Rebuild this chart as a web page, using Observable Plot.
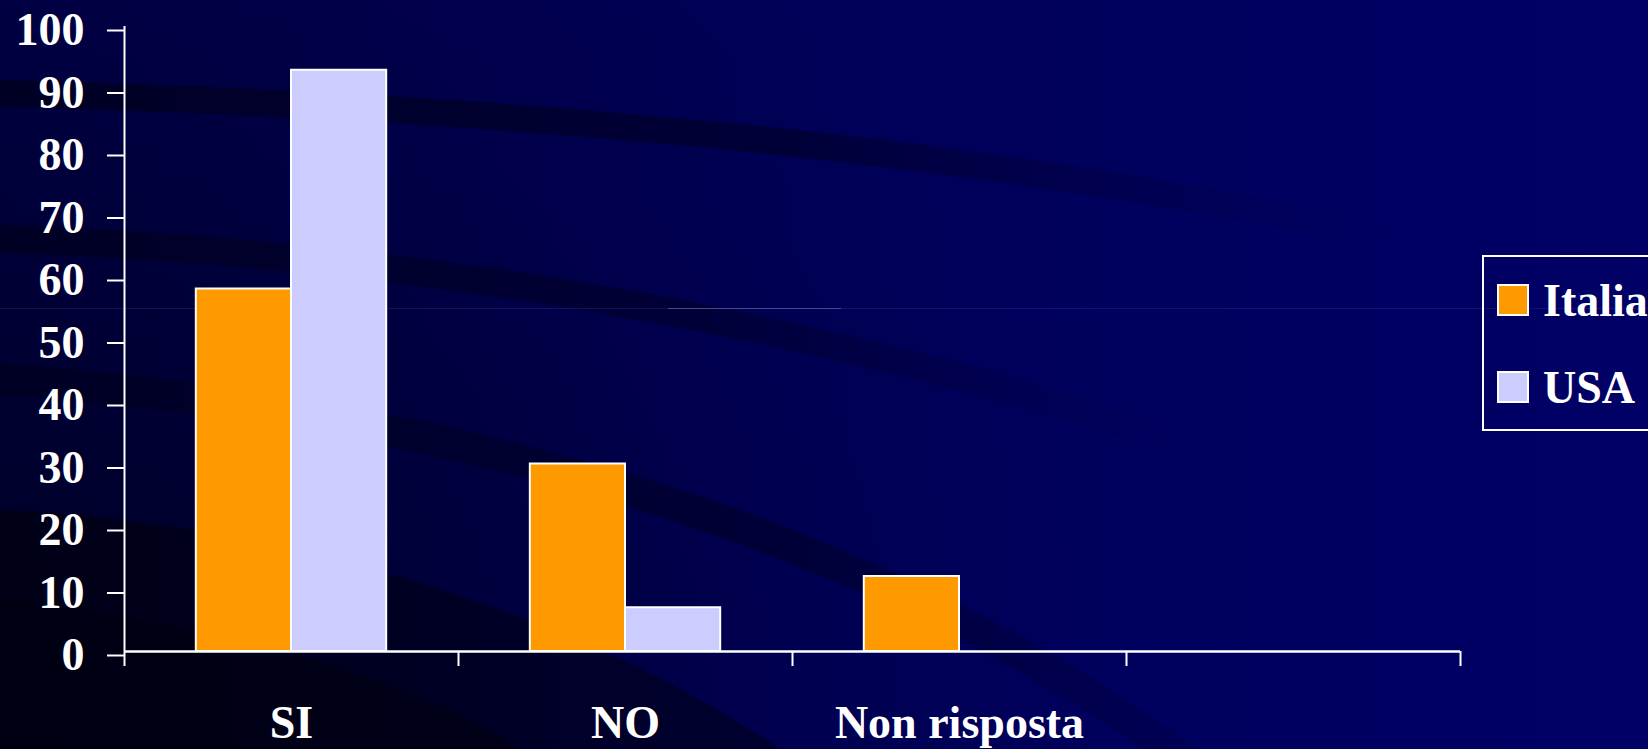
<!DOCTYPE html>
<html><head><meta charset="utf-8">
<script src="https://cdn.jsdelivr.net/npm/d3@7"></script>
<script src="https://cdn.jsdelivr.net/npm/@observablehq/plot@0.6"></script>
<style>
html,body{margin:0;padding:0;width:1648px;height:749px;overflow:hidden;background:#000058;}
#stage{position:relative;width:1648px;height:749px;}
#bg,#chart,#legend{position:absolute;left:0;top:0;}
#chart svg{display:block;}
</style></head><body>
<div id="stage">
<svg id="bg" width="1648" height="749" aria-hidden="true">
  <defs>
    <linearGradient id="base" x1="0" y1="0" x2="1" y2="0">
      <stop offset="0" stop-color="#00004a"/>
      <stop offset="0.55" stop-color="#00005a"/>
      <stop offset="1" stop-color="#000066"/>
    </linearGradient>
    <radialGradient id="shade" gradientUnits="userSpaceOnUse" cx="0" cy="749" r="1100">
      <stop offset="0" stop-color="#000000" stop-opacity="0.55"/>
      <stop offset="0.7" stop-color="#000000" stop-opacity="0.1"/>
      <stop offset="1" stop-color="#000000" stop-opacity="0"/>
    </radialGradient>
    <linearGradient id="band" gradientUnits="userSpaceOnUse" x1="0" y1="0" x2="1420" y2="0">
      <stop offset="0" stop-color="#000024" stop-opacity="1"/>
      <stop offset="0.55" stop-color="#000034" stop-opacity="0.9"/>
      <stop offset="0.85" stop-color="#000048" stop-opacity="0.4"/>
      <stop offset="1" stop-color="#000060" stop-opacity="0"/>
    </linearGradient>
    <linearGradient id="band2" gradientUnits="userSpaceOnUse" x1="0" y1="0" x2="1250" y2="0">
      <stop offset="0" stop-color="#000024" stop-opacity="1"/>
      <stop offset="0.55" stop-color="#000034" stop-opacity="0.9"/>
      <stop offset="0.85" stop-color="#000048" stop-opacity="0.35"/>
      <stop offset="1" stop-color="#000060" stop-opacity="0"/>
    </linearGradient>
    <linearGradient id="corner" gradientUnits="userSpaceOnUse" x1="0" y1="0" x2="800" y2="0">
      <stop offset="0" stop-color="#000016"/>
      <stop offset="1" stop-color="#000030"/>
    </linearGradient>
  </defs>
  <rect width="1648" height="749" fill="url(#base)"/>
  <rect width="1648" height="749" fill="url(#shade)"/>
  <path d="M -20 93 C 300 100, 900 125, 1450 250" fill="none" stroke="url(#band)" stroke-width="27"/>
  <path d="M -20 238 C 300 248, 750 290, 1300 480" fill="none" stroke="url(#band2)" stroke-width="28"/>
  <path d="M -20 378 C 400 405, 850 510, 1200 770" fill="none" stroke="url(#band)" stroke-width="32"/>
  <path d="M 0 510 C 250 520, 560 600, 780 749 L 0 749 Z" fill="url(#corner)"/>
  <path d="M 0 600 C 200 620, 420 680, 520 749 L 0 749 Z" fill="#000010" opacity="0.6"/>
  <line x1="0" x2="1648" y1="308.5" y2="308.5" stroke="#3030a0" stroke-opacity="0.35" stroke-width="1"/>
  <line x1="668" x2="841" y1="308.5" y2="308.5" stroke="#8080c0" stroke-opacity="0.5" stroke-width="1"/>
</svg>
<div id="chart"></div>
<svg id="legend" width="1648" height="749"></svg>
</div>
<script>
// ---- data ----
const categories = ["SI", "NO", "Non risposta", ""];
const seriesNames = ["Italia", "USA"];
const italiaValues = [58, 30, 12, null];
const usaValues = [93, 7, null, null];
const seriesColors = ["#FF9900", "#CCCCFF"];
const yTicks = [0, 10, 20, 30, 40, 50, 60, 70, 80, 90, 100];

// ---- build rows ----
const valuesBySeries = [italiaValues, usaValues];
const rows = [];
categories.forEach((c, i) => {
  seriesNames.forEach((s, j) => {
    const v = valuesBySeries[j][i];
    if (v != null && v > 0) rows.push({slot: i, category: c, series: s, seriesIndex: j, value: v});
  });
});

const barFrac = 0.285; // width of one bar as fraction of a category slot
const slotCount = categories.length;
const boundaries = d3.range(slotCount + 1);
const centers = d3.range(slotCount).map(i => i + 0.5);
const font = "'Liberation Serif','Times New Roman',Times,serif";

const chart = Plot.plot({
  width: 1648,
  height: 749,
  marginLeft: 124,
  marginRight: 188,
  marginTop: 26,
  marginBottom: 98,
  style: {background: "transparent", color: "white", fontFamily: font, fontSize: "46px", fontWeight: "bold", overflow: "visible"},
  x: {domain: [0, slotCount], axis: null},
  y: {domain: [0, 100], axis: null},
  color: {domain: seriesNames, range: seriesColors},
  marks: [
    Plot.rectY(rows, {
      x1: d => d.slot + 0.5 - barFrac + d.seriesIndex * barFrac,
      x2: d => d.slot + 0.5 + d.seriesIndex * barFrac,
      y: "value",
      fill: "series",
      stroke: "white",
      strokeWidth: 2
    }),
    Plot.ruleX([0], {stroke: "white", strokeWidth: 2}),
    Plot.ruleY([0], {stroke: "white", strokeWidth: 2.5}),
    Plot.axisY({ticks: yTicks, label: null, tickSize: 17, tickPadding: 23, stroke: "white", strokeWidth: 2, fill: "white", fontSize: 46, fontWeight: "bold", dy: 4}),
    Plot.axisX({ticks: boundaries, label: null, tickSize: 15, tickFormat: () => "", stroke: "white", strokeWidth: 2}),
    Plot.axisX({ticks: centers, label: null, tickSize: 0, tickPadding: 54, tickFormat: t => categories[Math.floor(t)], fill: "white", fontSize: 46, fontWeight: "bold"})
  ]
});
document.getElementById("chart").appendChild(chart);

// ---- legend (drawn beside the plot, clipped by the window as in the reference) ----
const leg = d3.select("#legend");
leg.append("rect")
  .attr("x", 1483).attr("y", 256).attr("width", 260).attr("height", 174)
  .attr("fill", "none").attr("stroke", "white").attr("stroke-width", 2);
const legY = [300, 387];
seriesNames.forEach((s, j) => {
  leg.append("rect")
    .attr("x", 1498).attr("y", legY[j] - 15).attr("width", 30).attr("height", 30)
    .attr("fill", seriesColors[j]).attr("stroke", "white").attr("stroke-width", 2);
  leg.append("text")
    .attr("x", 1543).attr("y", legY[j] + 16)
    .attr("fill", "white").attr("font-family", font).attr("font-size", 46).attr("font-weight", "bold")
    .text(s);
});
</script>
</body></html>
